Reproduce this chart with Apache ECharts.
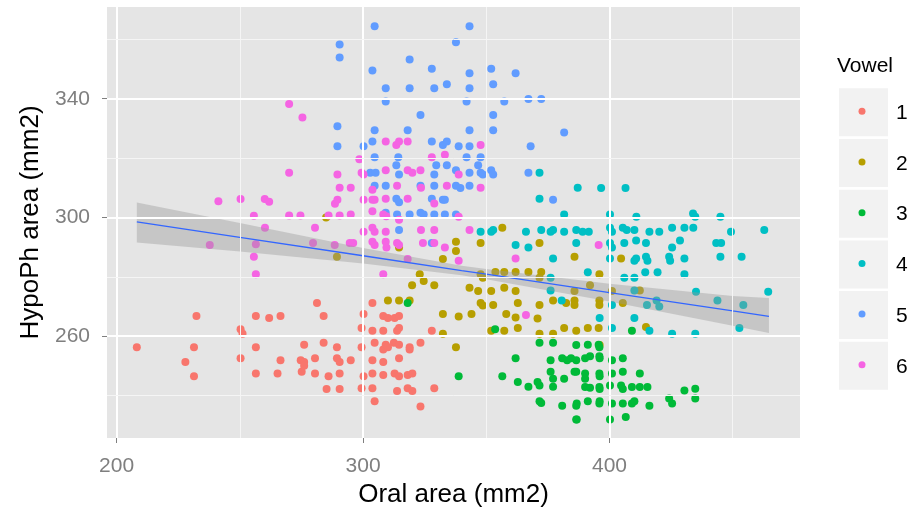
<!DOCTYPE html>
<html>
<head>
<meta charset="utf-8">
<script src="https://cdn.jsdelivr.net/npm/echarts@6/dist/echarts.min.js"></script>
<style>
  html, body { margin: 0; padding: 0; background: #fff; }
  #chart { width: 917px; height: 513px; }
</style>
</head>
<body>
<div id="chart"></div>
<script>
// axis ranges and breaks
const xRange = [196.1, 477.3];
const yRange = [225.7, 370.9];
const xMajor = [200, 300, 400];
const xMinor = [250, 350, 450];
const yMajor = [260, 300, 340];
const yMinor = [240, 280, 320, 360];

const vowels = ['1', '2', '3', '4', '5', '6'];
const colors = ['#F8766D', '#B79F00', '#00BA38', '#00BFC4', '#619CFF', '#F564E3'];

// points per vowel: [oral area, hypopharynx area]
const v1 = [[281.3,271.2],[232.4,266.8],[256.5,266.8],[261.9,266.1],[266.5,266.8],[284.0,266.8],[250.3,262.3],[251.1,260.8],
  [208.2,256.3],[231.4,256.3],[256.5,256.3],[276.1,257.1],[284.0,257.8],[289.4,256.3],[227.9,251.3],[250.3,252.6],
  [266.5,251.9],[274.7,251.9],[276.1,251.3],[280.5,252.6],[289.4,252.6],[290.5,251.3],[231.4,246.5],[256.5,247.4],
  [265.3,247.4],[275.1,248.0],[276.1,250.0],[280.5,247.4],[286.0,246.5],[290.5,247.4],[285.2,242.2],[290.5,242.2],
  [303.8,271.2],[300.2,267.5],[308.2,266.8],[310.1,266.1],[312.8,266.1],[314.6,266.8],[299.4,262.8],[303.8,261.8],
  [308.2,261.8],[313.8,261.8],[314.6,262.8],[327.9,261.8],[304.7,257.8],[309.2,257.1],[312.5,257.8],[314.6,257.1],
  [318.9,256.3],[323.3,257.8],[299.4,256.3],[308.2,255.5],[310.1,256.3],[318.9,255.5],[295.0,251.9],[303.8,251.9],
  [308.2,251.3],[314.6,252.6],[300.2,246.5],[303.8,247.4],[308.2,246.9],[312.8,247.4],[314.6,246.5],[318.1,246.9],
  [320.0,247.4],[299.4,242.5],[303.8,242.5],[313.8,241.5],[318.1,242.5],[320.0,241.5],[328.9,242.5],[304.7,238.1],
  [323.3,236.3]];
const v2 = [[289.4,286.8],[285.0,300.0],[356.5,296.5],[337.7,291.8],[347.7,291.4],[371.6,291.4],[314.6,289.9],[332.4,286.0],
  [337.7,288.7],[323.0,280.9],[324.6,278.6],[319.9,277.2],[328.9,277.2],[343.2,276.3],[346.7,275.2],[347.7,280.9],
  [348.6,279.7],[352.0,275.2],[353.7,281.6],[357.3,281.6],[361.9,281.6],[357.3,276.3],[361.9,275.2],[367.1,281.6],
  [372.3,281.6],[371.6,279.7],[310.1,272.0],[314.6,272.0],[318.9,272.0],[347.7,271.2],[348.6,270.3],[352.8,270.5],
  [362.8,271.2],[371.6,270.5],[377.1,272.0],[382.4,271.2],[332.4,267.5],[338.8,266.6],[344.0,267.5],[358.1,267.5],
  [361.9,266.3],[370.8,266.0],[332.4,260.8],[352.0,261.8],[357.3,261.8],[362.8,262.8],[371.6,260.8],[377.1,260.8],
  [381.6,262.8],[386.5,261.8],[337.7,256.3],[385.8,286.8],[395.9,280.9],[404.7,286.2],[392.1,277.2],[385.8,275.2],
  [401.0,275.2],[412.3,275.4],[385.8,272.0],[385.8,270.5],[395.9,272.0],[395.9,270.5],[405.4,271.2],[391.2,262.8],
  [395.6,262.8],[414.8,263.1],[396.0,257.0]];
const v3 = [[318.1,271.2],[353.6,262.3],[371.6,257.8],[377.1,257.8],[386.5,257.0],[361.9,252.6],[376.1,251.9],[380.8,252.6],
  [382.8,251.9],[386.5,251.9],[338.8,246.5],[356.5,246.5],[376.1,248.0],[377.1,245.7],[381.6,245.7],[386.5,248.0],
  [362.8,244.6],[367.1,243.0],[370.8,244.6],[371.6,243.4],[377.1,243.0],[371.6,238.1],[372.3,237.5],[380.8,236.6],
  [386.5,236.6],[386.5,231.9],[409.1,261.8],[391.2,257.1],[395.6,257.1],[395.9,256.3],[384.4,252.6],[390.1,252.6],
  [392.1,253.2],[395.9,253.2],[396.0,252.6],[401.0,251.9],[405.4,252.6],[385.8,248.0],[390.1,247.4],[390.1,245.7],
  [395.9,247.4],[396.0,246.5],[401.0,247.4],[405.4,248.0],[412.3,247.4],[390.1,242.9],[392.1,242.6],[395.9,242.9],
  [396.0,242.2],[400.2,243.4],[404.7,243.4],[405.4,242.2],[409.1,242.9],[412.3,242.9],[415.4,242.9],[430.4,241.7],
  [434.8,242.3],[386.7,237.3],[391.2,238.1],[395.9,237.3],[396.0,238.1],[401.0,237.3],[405.4,237.3],[409.1,237.3],
  [410.1,238.1],[416.2,236.6],[424.2,239.0],[425.4,237.3],[434.8,239.0],[386.7,231.9],[400.2,231.9],[406.6,232.8]];
const v4 = [[371.6,315.1],[371.6,306.3],[381.6,301.0],[387.1,310.0],[396.6,309.9],[406.5,309.9],[400.2,301.0],[410.9,300.2],
  [433.9,301.3],[434.8,300.2],[445.0,300.2],[347.7,295.2],[352.0,295.2],[352.8,295.8],[361.9,290.7],[367.1,289.9],
  [366.1,295.2],[372.3,295.8],[376.1,295.2],[377.1,295.8],[381.6,295.2],[386.5,295.8],[386.5,291.4],[377.1,286.2],
  [376.1,279.7],[376.1,275.4],[380.6,272.0],[389.1,295.2],[391.6,295.2],[400.2,296.5],[401.0,295.2],[405.4,296.5],
  [407.0,295.8],[410.1,295.8],[416.2,295.2],[420.2,295.2],[425.4,296.5],[430.4,296.5],[434.0,296.5],[449.3,295.2],
  [462.8,295.8],[400.2,291.4],[401.0,289.9],[406.0,291.4],[410.8,292.2],[414.8,291.4],[428.6,292.2],[425.4,289.9],
  [443.3,291.4],[445.3,291.4],[400.2,286.2],[410.1,285.4],[410.8,286.2],[414.8,286.8],[415.4,285.4],[424.2,286.8],
  [424.6,285.4],[430.4,286.2],[445.0,286.8],[453.6,286.8],[391.2,281.5],[406.0,279.7],[410.1,279.7],[414.5,281.5],
  [419.5,281.5],[430.4,280.9],[410.1,275.4],[435.1,275.0],[464.4,275.0],[401.0,270.5],[415.2,270.5],[419.1,272.0],
  [420.2,270.0],[443.8,272.0],[454.3,270.5],[396.0,266.1],[410.1,266.1],[401.0,262.8],[416.2,261.8],[425.4,260.8],
  [434.8,260.8],[452.7,262.8]];
const v5 = [[290.5,358.3],[290.5,353.9],[289.6,330.7],[289.6,324.0],[304.7,364.4],[343.2,364.4],[337.7,359.0],[318.9,353.2],
  [303.8,349.5],[327.9,350.1],[343.2,348.6],[352.0,350.1],[361.9,348.6],[309.2,343.5],[318.9,343.5],[328.9,343.5],
  [334.0,344.9],[343.2,343.5],[352.8,344.9],[309.2,339.1],[342.0,339.1],[357.3,339.1],[367.1,339.9],[372.3,339.9],
  [323.3,334.5],[352.8,334.5],[304.7,329.4],[318.1,329.4],[343.2,329.4],[352.8,329.4],[381.6,328.6],[300.2,324.0],
  [303.8,325.6],[327.9,325.6],[332.4,324.4],[334.0,325.6],[338.8,324.0],[343.2,324.0],[368.0,324.0],[304.7,320.3],
  [314.3,320.3],[313.5,317.6],[329.7,317.6],[334.0,317.6],[342.0,320.3],[346.7,317.6],[347.7,320.3],[302.9,315.1],
  [305.1,315.1],[314.6,314.5],[328.9,314.5],[337.7,315.9],[343.2,315.1],[347.7,315.1],[348.6,314.5],[352.0,315.9],
  [352.8,314.5],[367.1,315.1],[304.7,310.7],[309.2,310.7],[323.3,310.7],[327.9,306.3],[328.9,310.7],[337.7,310.7],
  [339.5,309.9],[343.2,310.7],[313.5,306.3],[314.6,305.1],[332.4,306.0],[333.2,306.0],[377.1,306.0],[309.2,301.6],
  [313.8,301.0],[318.9,301.0],[323.3,301.6],[324.6,301.0],[328.9,301.0],[333.2,301.0],[337.7,301.0],[314.6,295.8],
  [327.9,291.4]];
const v6 = [[270.0,338.2],[275.4,333.7],[270.0,315.1],[289.6,314.5],[290.5,310.0],[241.3,305.5],[250.3,306.2],[260.1,306.2],
  [261.9,305.3],[288.6,304.6],[289.6,306.0],[255.7,300.6],[270.0,300.7],[274.6,300.7],[286.0,300.7],[290.5,300.7],
  [309.2,325.6],[313.5,324.4],[314.6,325.6],[318.1,325.6],[347.7,324.4],[298.5,319.6],[327.9,320.3],[333.2,321.1],
  [299.4,315.1],[300.2,314.5],[309.2,315.9],[318.1,315.9],[320.0,315.1],[323.3,315.9],[338.8,314.5],[295.0,310.0],
  [303.8,309.3],[313.8,310.7],[323.5,310.0],[334.0,310.7],[347.7,310.0],[300.2,306.0],[303.8,306.0],[304.7,306.0],
  [309.2,306.3],[318.1,306.3],[328.9,304.7],[295.0,301.0],[303.8,302.1],[308.2,301.0],[309.4,300.4],[338.8,300.2],
  [260.2,296.5],[280.5,296.5],[237.8,290.7],[256.5,291.0],[279.7,291.4],[288.5,290.7],[255.7,286.8],[256.5,280.9],
  [300.2,295.2],[303.8,296.5],[304.7,295.2],[309.2,295.2],[314.6,299.2],[323.5,295.8],[328.9,295.8],[343.2,295.8],
  [294.6,291.4],[296.0,291.4],[303.8,291.8],[304.7,290.7],[309.2,291.8],[309.5,289.9],[313.8,291.4],[314.6,290.7],
  [324.3,291.4],[328.9,291.4],[333.2,289.9],[338.8,285.4],[318.1,286.0],[308.2,280.9],[361.9,286.2],[366.1,267.1],
  [395.6,290.7]];
const groups = [v1, v2, v3, v4, v5, v6];

// linear smooth with confidence band
const smoothX = [208.2, 250, 300, 340, 350, 400, 450, 464.7];
const smoothFit = [298.5, 293.3, 287.1, 282.1, 280.9, 274.7, 268.5, 266.7];
const smoothLo = [291.6, 288.5, 284.5, 280.5, 279.2, 271.7, 263.5, 261.1];
const smoothHi = [305.0, 298.1, 289.7, 283.7, 282.6, 277.7, 273.5, 272.9];

const chart = echarts.init(document.getElementById('chart'));
const font = 'Liberation Sans, Arial, sans-serif';

const gridLines = [];
xMajor.forEach(v => gridLines.push({ xAxis: v, lineStyle: { color: '#FFFFFF', width: 2, type: 'solid' } }));
xMinor.forEach(v => gridLines.push({ xAxis: v, lineStyle: { color: '#F5F5F5', width: 1, type: 'solid' } }));
yMajor.forEach(v => gridLines.push({ yAxis: v, lineStyle: { color: '#FFFFFF', width: 2, type: 'solid' } }));
yMinor.forEach(v => gridLines.push({ yAxis: v, lineStyle: { color: '#F5F5F5', width: 1, type: 'solid' } }));

const series = [{
  type: 'line',
  data: [],
  z: 1,
  silent: true,
  markLine: { silent: true, symbol: 'none', label: { show: false }, animation: false, data: gridLines }
}];
groups.forEach((g, i) => {
  series.push({
    name: vowels[i],
    type: 'scatter',
    data: g,
    symbolSize: 8,
    z: 2,
    itemStyle: { color: colors[i], opacity: 1 }
  });
});
series.push({
  type: 'custom',
  z: 3,
  silent: true,
  data: smoothX.map((x, i) => [x, smoothLo[i], smoothHi[i]]),
  encode: { x: 0, y: [1, 2] },
  renderItem: function (params, api) {
    if (params.dataIndex !== 0) return null;
    const pts = [];
    for (let i = 0; i < smoothX.length; i++) pts.push(api.coord([smoothX[i], smoothHi[i]]));
    for (let i = smoothX.length - 1; i >= 0; i--) pts.push(api.coord([smoothX[i], smoothLo[i]]));
    return { type: 'polygon', shape: { points: pts }, style: { fill: 'rgba(153,153,153,0.4)' } };
  }
});
series.push({
  type: 'line',
  z: 4,
  silent: true,
  data: smoothX.map((x, i) => [x, smoothFit[i]]),
  showSymbol: false,
  lineStyle: { color: '#3366FF', width: 1.3 }
});

// legend drawn as ggplot-style keys
const graphic = [{
  type: 'text', left: 837, top: 56,
  style: { text: 'Vowel', font: '21px ' + font, fill: '#000' }
}];
vowels.forEach((v, i) => {
  const y0 = 88.3 + i * 50.7;
  graphic.push({ type: 'rect', shape: { x: 839, y: y0, width: 49, height: 48 }, style: { fill: '#F2F2F2' } });
  graphic.push({ type: 'circle', shape: { cx: 862, cy: y0 + 23, r: 3.5 }, style: { fill: colors[i] } });
  graphic.push({
    type: 'text', x: 896, y: y0 + 25,
    style: { text: v, font: '21px ' + font, fill: '#000', verticalAlign: 'middle' }
  });
});

chart.setOption({
  animation: false,
  grid: { left: 107, right: 117, top: 7, bottom: 75, show: true, backgroundColor: '#E5E5E5', borderWidth: 0 },
  xAxis: {
    type: 'value', min: xRange[0], max: xRange[1],
    name: 'Oral area (mm2)', nameLocation: 'middle', nameGap: 44,
    nameTextStyle: { fontFamily: font, fontSize: 26, color: '#000' },
    axisLine: { show: false },
    axisTick: { show: true, length: 5, customValues: xMajor, lineStyle: { color: '#7F7F7F' } },
    axisLabel: { customValues: xMajor, margin: 18, fontFamily: font, fontSize: 21, color: '#7F7F7F' },
    splitLine: { show: false }
  },
  yAxis: {
    type: 'value', min: yRange[0], max: yRange[1],
    name: 'HypoPh area (mm2)', nameLocation: 'middle', nameGap: 59,
    nameTextStyle: { fontFamily: font, fontSize: 26, color: '#000' },
    axisLine: { show: false },
    axisTick: { show: true, length: 5, customValues: yMajor, lineStyle: { color: '#7F7F7F' } },
    axisLabel: { customValues: yMajor, margin: 17, fontFamily: font, fontSize: 21, color: '#7F7F7F' },
    splitLine: { show: false }
  },
  graphic: graphic,
  series: series
});
</script>
</body>
</html>
